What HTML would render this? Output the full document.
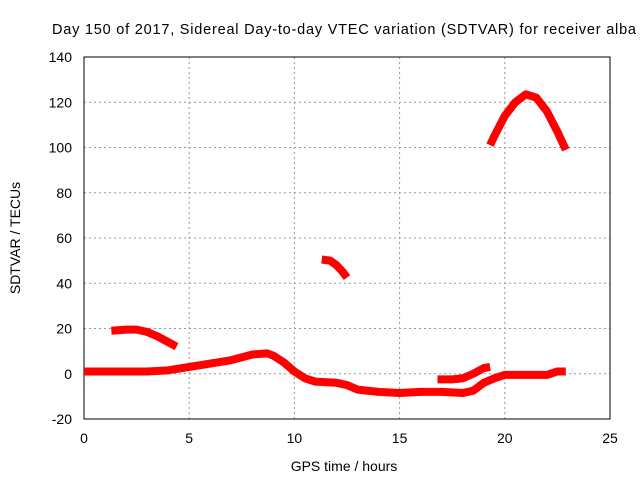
<!DOCTYPE html>
<html><head><meta charset="utf-8"><style>
body{margin:0;background:#fff}
svg{display:block;font-family:"Liberation Sans",sans-serif}
</style></head><body>
<svg id="c" width="640" height="480"></svg>
<script>
const xTicks=[0,5,10,15,20,25];
const yTicks=[-20,0,20,40,60,80,100,120,140];
const seriesLow=[[0,1],[1,1],[2,1],[3,1],[4,1.5],[5,3],[6,4.5],[7,6],[8,8.5],[8.7,9],[9,8],[9.5,5],[10,1],[10.5,-2],[11,-3.5],[12,-4],[12.5,-5],[13,-7],[14,-8],[15,-8.5],[16,-8],[17,-8],[18,-8.5],[18.5,-7.5],[19,-4],[19.5,-2],[20,-0.5],[21,-0.5],[22,-0.5],[22.5,1],[22.9,1]];
const seriesEarly=[[1.3,19],[2,19.5],[2.5,19.5],[3,18.5],[3.5,16.5],[4,14],[4.4,12]];
const seriesMid=[[11.3,50.5],[11.7,50],[12,48],[12.3,45],[12.5,42.5]];
const seriesHigh=[[19.3,101],[19.5,105],[20,114],[20.5,120],[21,123.5],[21.5,122],[22,116],[22.5,107],[22.9,99]];
const seriesLate=[[16.8,-2.5],[17.5,-2.5],[18,-2],[18.5,0],[19,2.5],[19.3,3]];
const L=84,R=610,T=57,B=419;
const X=v=>L+(v-0)/(25-0)*(R-L);
const Y=v=>B-(v+20)/160*(B-T);
const s=document.getElementById('c');
const NS='http://www.w3.org/2000/svg';
function mk(t,a,txt){const e=document.createElementNS(NS,t);for(const k in a)e.setAttribute(k,a[k]);if(txt!=null)e.textContent=txt;s.appendChild(e);return e;}
xTicks.forEach(v=>{
 if(v>0&&v<25){const g=mk('line',{x1:X(v),x2:X(v),y1:T,y2:B,stroke:'#999','stroke-dasharray':'2,3'});}
 const t=mk('text',{x:X(v),y:443,'text-anchor':'middle','font-size':14},v);
 
});
yTicks.forEach(v=>{
 if(v>-20&&v<140){const g=mk('line',{x1:L,x2:R,y1:Y(v),y2:Y(v),stroke:'#999','stroke-dasharray':'2,3'});}
 const t=mk('text',{x:72,y:Y(v)+5,'text-anchor':'end','font-size':14},v);
 
});
const fr=mk('rect',{x:L,y:T,width:R-L,height:B-T,fill:'none',stroke:'#000'});

[seriesLow,seriesEarly,seriesMid,seriesHigh,seriesLate].forEach((d,i)=>{
 const p=mk('polyline',{points:d.map(q=>X(q[0])+','+Y(q[1])).join(' '),fill:'none',stroke:'#f00','stroke-width':8,'stroke-linejoin':'round'});
 
});
const ti=mk('text',{x:52,y:34,'font-size':14.5,textLength:584,lengthAdjust:'spacing'},'Day 150 of 2017, Sidereal Day-to-day VTEC variation (SDTVAR) for receiver alba');

const xt=mk('text',{x:344,y:471,'text-anchor':'middle','font-size':14},'GPS time / hours');

const yt=mk('text',{x:0,y:0,'text-anchor':'middle','font-size':14,transform:'translate(20,238) rotate(-90)'},'SDTVAR / TECUs');

</script>
</body></html>
